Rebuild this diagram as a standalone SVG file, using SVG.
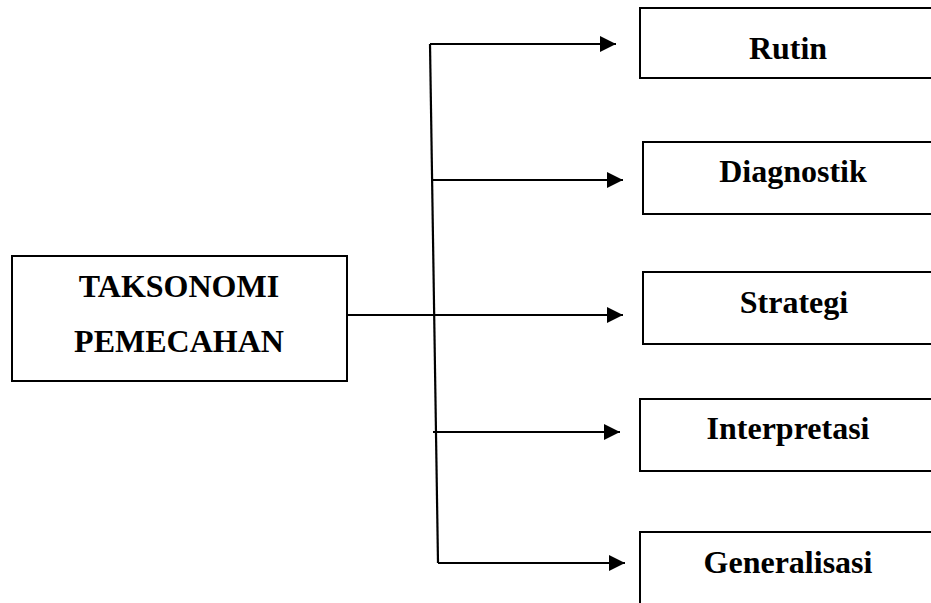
<svg xmlns="http://www.w3.org/2000/svg" width="931" height="603" viewBox="0 0 931 603">
<style>
.box{fill:#fff;stroke:#000;stroke-width:2}
.lbl{font-family:"Liberation Serif","Times New Roman",serif;font-weight:bold;font-size:32px;text-anchor:middle;fill:#000}
.con{fill:none;stroke:#000;stroke-width:2.2}
</style>
<defs>
<marker id="arr" markerUnits="userSpaceOnUse" markerWidth="17" markerHeight="16" refX="16" refY="8" orient="auto">
<path d="M0,0 L16,8 L0,16 Z" fill="#000"/>
</marker>
</defs>
<rect width="931" height="603" fill="#fff"/>
<g id="connectors">
<path class="con" d="M430,44 L438,563"/>
<path class="con" d="M430,44 L616,44" marker-end="url(#arr)"/>
<path class="con" d="M432,180 L623,180" marker-end="url(#arr)"/>
<path class="con" d="M347,315 L623,315" marker-end="url(#arr)"/>
<path class="con" d="M433,432 L620,432" marker-end="url(#arr)"/>
<path class="con" d="M438,563 L625,563" marker-end="url(#arr)"/>
</g>
<g id="taksonomi">
<rect class="box" x="12" y="256" width="335" height="125"/>
<text class="lbl" x="179" y="297">TAKSONOMI</text>
<text class="lbl" x="179" y="352">PEMECAHAN</text>
</g>
<g id="rutin">
<rect class="box" x="640" y="8" width="300" height="70"/>
<text class="lbl" x="788" y="59">Rutin</text>
</g>
<g id="diagnostik">
<rect class="box" x="643" y="142" width="300" height="72"/>
<text class="lbl" x="793" y="182">Diagnostik</text>
</g>
<g id="strategi">
<rect class="box" x="643" y="272" width="300" height="72"/>
<text class="lbl" x="794" y="313">Strategi</text>
</g>
<g id="interpretasi">
<rect class="box" x="640" y="399" width="300" height="72"/>
<text class="lbl" x="788" y="439">Interpretasi</text>
</g>
<g id="generalisasi">
<rect class="box" x="640" y="532" width="300" height="90"/>
<text class="lbl" x="788" y="573">Generalisasi</text>
</g>
</svg>
